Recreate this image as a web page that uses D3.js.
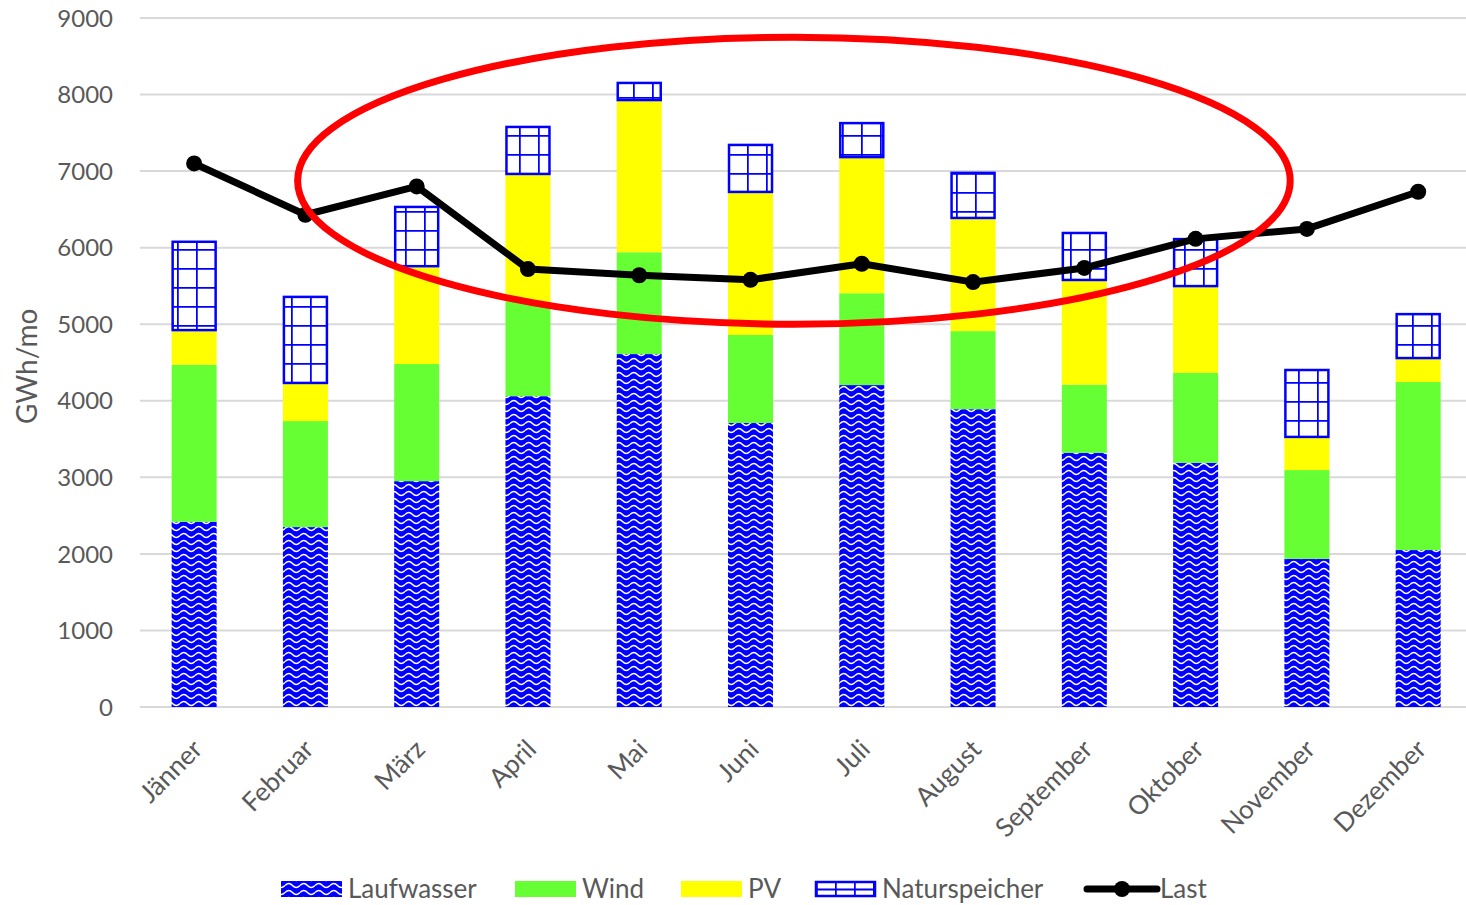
<!DOCTYPE html>
<html>
<head>
<meta charset="utf-8">
<script src="https://cdn.jsdelivr.net/npm/d3@7"></script>
<style>
  html, body { margin: 0; padding: 0; background: #fff; }
  svg { display: block; }
  text { font-family: Lato, "Open Sans", sans-serif; fill: #595959; }
</style>
</head>
<body>
<svg id="chart" width="1466" height="905"></svg>
<script>
// Monthly energy balance (GWh per month)
const months = ["Jänner", "Februar", "März", "April", "Mai", "Juni", "Juli", "August", "September", "Oktober", "November", "Dezember"];
const laufwasser    = [2420, 2350, 2950, 4060, 4610, 3710, 4205, 3890, 3320, 3190, 1935, 2050];
const wind          = [2050, 1385, 1530, 1230, 1330, 1150, 1200, 1020,  890, 1175, 1160, 2195];
const pv            = [ 440,  485, 1265, 1660, 1975, 1855, 1765, 1465, 1355, 1120,  420,  300];
const naturspeicher = [1180, 1150,  800,  640,  250,  640,  470,  615,  640,  640,  900,  600];
const last          = [7100, 6430, 6800, 5720, 5640, 5580, 5790, 5550, 5735, 6115, 6245, 6730];
const yTicks = [0, 1000, 2000, 3000, 4000, 5000, 6000, 7000, 8000, 9000];
const seriesNames = ["Laufwasser", "Wind", "PV", "Naturspeicher"];
const seriesValues = [laufwasser, wind, pv, naturspeicher];
const yLabel = "GWh/mo";
// highlighted summer region: month index span and value span
const highlight = { from: 0.93, to: 9.85, low: 5000, high: 8750 };

const svg = d3.select("#chart");

const x = d3.scaleBand().domain(months).range([138.5, 1473.8]).paddingInner(0.5956).paddingOuter(0.2978);
const y = d3.scaleLinear().domain([0, 9000]).range([707, 18]);
const cx = m => x(m) + x.bandwidth() / 2;
const idx = d3.scaleLinear().domain([0, months.length - 1]).range([cx(months[0]), cx(months[months.length - 1])]);

// fill patterns
const defs = svg.append("defs");
const wave = defs.append("pattern").attr("id", "wave").attr("patternUnits", "userSpaceOnUse")
  .attr("width", 15).attr("height", 7);
wave.append("rect").attr("width", 15).attr("height", 7).attr("fill", "#0000ff");
wave.append("path").attr("d", "M0,3.5 C2.5,0.8 5,0.8 7.5,3.5 C10,6.2 12.5,6.2 15,3.5")
  .attr("fill", "none").attr("stroke", "#fff").attr("stroke-width", 1.5);

const grid = defs.append("pattern").attr("id", "grid").attr("patternUnits", "userSpaceOnUse")
  .attr("width", 19).attr("height", 19).attr("x", 177).attr("y", 2);
grid.append("rect").attr("width", 19).attr("height", 19).attr("fill", "#fff");
grid.append("path").attr("d", "M0,0.75 H19 M0.75,0 V19")
  .attr("stroke", "#0000ff").attr("stroke-width", 2).attr("fill", "none");

// gridlines
svg.append("g").selectAll("line").data(yTicks).join("line")
  .attr("x1", 140).attr("x2", 1466)
  .attr("y1", d => y(d)).attr("y2", d => y(d))
  .attr("stroke", "#d9d9d9").attr("stroke-width", 2);

// y axis labels
svg.append("g").selectAll("text").data(yTicks).join("text")
  .attr("x", 113).attr("y", d => y(d)).attr("dy", "0.36em")
  .attr("text-anchor", "end").attr("font-size", 24)
  .text(d => d);

svg.append("text")
  .attr("transform", `translate(37,${y(4450)}) rotate(-90)`)
  .attr("text-anchor", "middle").attr("font-size", 28)
  .text(yLabel);

// x axis labels
svg.append("g").selectAll("text").data(months).join("text")
  .attr("transform", m => `translate(${cx(m) - 3},${738}) rotate(-45)`)
  .attr("dy", "0.7em")
  .attr("text-anchor", "end").attr("font-size", 26)
  .text(m => m);

// stacked bars
const rows = months.map((m, i) => {
  const r = { month: m };
  seriesNames.forEach((s, k) => r[s] = seriesValues[k][i]);
  return r;
});
const stacked = d3.stack().keys(seriesNames)(rows);
const fills = { "Laufwasser": "url(#wave)", "Wind": "#66ff33", "PV": "#ffff00", "Naturspeicher": "url(#grid)" };

const layers = svg.append("g").selectAll("g").data(stacked).join("g");
layers.selectAll("rect").data(s => s.map(d => ({ key: s.key, d }))).join("rect")
  .attr("x", o => x(o.d.data.month) + (o.key === "Naturspeicher" ? 1 : 0))
  .attr("width", o => x.bandwidth() - (o.key === "Naturspeicher" ? 2 : 0))
  .attr("y", o => y(o.d[1]) + (o.key === "Naturspeicher" ? 1 : 0))
  .attr("height", o => y(o.d[0]) - y(o.d[1]) - (o.key === "Naturspeicher" ? 2 : 0))
  .attr("fill", o => fills[o.key])
  .attr("stroke", o => o.key === "Naturspeicher" ? "#0000ff" : "none")
  .attr("stroke-width", 2.5);

// load line
const line = d3.line().x((d, i) => cx(months[i])).y(d => y(d));
svg.append("path").datum(last).attr("d", line)
  .attr("fill", "none").attr("stroke", "#000").attr("stroke-width", 7)
  .attr("stroke-linejoin", "round");
svg.append("g").selectAll("circle").data(last).join("circle")
  .attr("cx", (d, i) => cx(months[i])).attr("cy", d => y(d)).attr("r", 8).attr("fill", "#000");

// highlight ellipse
svg.append("ellipse")
  .attr("cx", (idx(highlight.from) + idx(highlight.to)) / 2)
  .attr("cy", (y(highlight.low) + y(highlight.high)) / 2)
  .attr("rx", (idx(highlight.to) - idx(highlight.from)) / 2)
  .attr("ry", (y(highlight.low) - y(highlight.high)) / 2)
  .attr("fill", "none").attr("stroke", "#ff0000").attr("stroke-width", 7);

// legend
const ly = 889;
const gl = defs.append("pattern").attr("id", "gridLegend").attr("patternUnits", "userSpaceOnUse")
  .attr("width", 19).attr("height", 19).attr("x", 815 + 1).attr("y", ly - 8);
gl.append("rect").attr("width", 19).attr("height", 19).attr("fill", "#fff");
gl.append("path").attr("d", "M0,8.5 H19 M0.75,0 V19")
  .attr("stroke", "#0000ff").attr("stroke-width", 2).attr("fill", "none");

const legend = svg.append("g");
const sw = [
  { name: "Laufwasser", x0: 281, tx: 348 },
  { name: "Wind", x0: 515, tx: 582 },
  { name: "PV", x0: 681, tx: 748 },
  { name: "Naturspeicher", x0: 815, tx: 882 }
];
sw.forEach(s => {
  const isN = s.name === "Naturspeicher";
  legend.append("rect")
    .attr("x", s.x0 + (isN ? 1 : 0)).attr("y", ly - 8 + (isN ? 1 : 0))
    .attr("width", 61 - (isN ? 2 : 0)).attr("height", 16 - (isN ? 2 : 0))
    .attr("fill", isN ? "url(#gridLegend)" : fills[s.name])
    .attr("stroke", isN ? "#0000ff" : "none").attr("stroke-width", 2.5);
  legend.append("text").attr("x", s.tx).attr("y", ly).attr("dy", "0.36em")
    .attr("font-size", 26).text(s.name);
});

legend.append("line").attr("x1", 1087).attr("x2", 1157).attr("y1", ly).attr("y2", ly)
  .attr("stroke", "#000").attr("stroke-width", 7).attr("stroke-linecap", "round");
legend.append("circle").attr("cx", 1122).attr("cy", ly).attr("r", 8).attr("fill", "#000");
legend.append("text").attr("x", 1160).attr("y", ly).attr("dy", "0.36em")
  .attr("font-size", 26).text("Last");
</script>
</body>
</html>
